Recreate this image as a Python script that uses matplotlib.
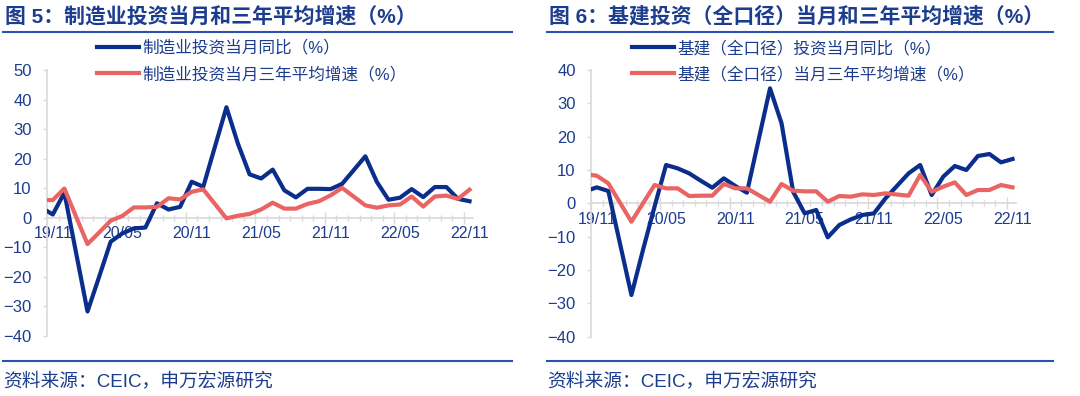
import matplotlib
matplotlib.use("Agg")
import matplotlib.pyplot as plt
from matplotlib.lines import Line2D
from matplotlib.ticker import MultipleLocator

plt.rcParams['font.family'] = ['Liberation Sans', 'Noto Sans CJK SC']

# months (January is merged into Jan-Feb, so it is missing)
months = ["19/10", "19/11", "19/12", "20/02", "20/03", "20/04", "20/05", "20/06",
          "20/07", "20/08", "20/09", "20/10", "20/11", "20/12", "21/02", "21/03",
          "21/04", "21/05", "21/06", "21/07", "21/08", "21/09", "21/10", "21/11",
          "21/12", "22/02", "22/03", "22/04", "22/05", "22/06", "22/07", "22/08",
          "22/09", "22/10", "22/11"]

# fig 5: manufacturing investment
mfg_yoy = [3.5, 1.1, 8.5, -31.7, -20.0, -8.1, -5.3, -3.6, -3.3, 4.9, 2.8, 3.7,
           12.2, 10.5, 37.4, 25.0, 14.7, 13.3, 16.3, 9.3, 6.9, 9.8, 9.8, 9.7,
           11.5, 20.8, 12.1, 6.1, 6.8, 9.7, 7.0, 10.4, 10.4, 6.4, 5.6]
mfg_3y = [6.0, 6.0, 9.9, -8.9, -5.0, -1.0, 0.6, 3.5, 3.5, 3.7, 6.6, 6.2,
          8.8, 9.6, -0.2, 0.7, 1.3, 2.8, 5.1, 3.1, 3.1, 4.7, 5.6, 7.6,
          10.1, 4.2, 3.4, 4.2, 4.5, 7.2, 3.8, 7.2, 7.5, 6.4, 9.5]

# fig 6: infrastructure investment (broad)
infra_yoy = [3.6, 4.8, 3.7, -27.5, -14.0, -1.0, 11.5, 10.5, 9.0, 6.8, 4.7, 7.5,
             5.2, 3.2, 34.5, 24.0, 3.5, -3.0, -2.0, -10.2, -6.5, -4.8, -3.5, -3.0,
             1.5, 9.0, 11.5, 2.5, 8.0, 11.2, 10.0, 14.2, 14.8, 12.3, 13.3]
infra_3y = [8.7, 8.3, 6.0, -5.5, 0.0, 5.5, 4.5, 4.5, 2.2, 2.3, 2.3, 5.8,
            4.5, 4.5, 0.5, 5.8, 3.8, 3.6, 3.6, 0.5, 2.2, 2.0, 2.7, 2.5,
            3.0, 2.3, 8.5, 3.5, 5.0, 6.3, 2.5, 4.0, 4.0, 5.5, 4.8]

tick_labels = ["19/11", "20/05", "20/11", "21/05", "21/11", "22/05", "22/11"]

BLUE = "#0B2E8C"
RED = "#E96463"
TXT = "#1C3C8E"
RULE = "#2B52B0"
GRAY = "#D9D9D9"


def pos(m):
    # month index, category centre (19/11 -> 0.5)
    yy, mm = m.split("/")
    return (int(yy) - 19) * 12 + int(mm) - 11 + 0.5


def draw(ax, blue, red, names, ylim):
    x = [pos(m) for m in months]
    ax.plot(x, blue, color=BLUE, lw=3, label=names[0], zorder=3)
    ax.plot(x, red, color=RED, lw=3, label=names[1], zorder=3)
    ax.set_xlim(0, 36.8)
    ax.set_ylim(ylim)
    for s in ["top", "right"]:
        ax.spines[s].set_visible(False)
    ax.spines["left"].set_color(GRAY)
    ax.spines["left"].set_linewidth(1.2)
    ax.spines["bottom"].set_position(("data", 0))
    ax.spines["bottom"].set_color(GRAY)
    ax.spines["bottom"].set_linewidth(1.2)
    ax.set_yticks(range(ylim[0], ylim[1] + 1, 10))
    ax.tick_params(axis="y", length=3, width=1, color=GRAY, labelcolor=TXT,
                   labelsize=12, pad=8)
    ax.set_xticks([pos(t) for t in tick_labels], tick_labels)
    ax.xaxis.set_minor_locator(MultipleLocator(1))
    ax.tick_params(axis="x", which="major", length=0, pad=6, labelsize=11.5,
                   labelcolor=TXT)
    ax.tick_params(axis="x", which="minor", length=4, width=1,
                   direction="inout", color=GRAY)
    for t, loc in zip(ax.xaxis.get_minor_ticks(), ax.xaxis.get_minorticklocs()):
        if round(loc) % 6 == 0:
            t.tick1line.set_markersize(9)
    ax.patch.set_alpha(0)


fig = plt.figure(figsize=(10.8, 3.96), dpi=100)

ax1 = fig.add_axes([47 / 1080, 60 / 396, 426 / 1080, 266 / 396])
draw(ax1, mfg_yoy, mfg_3y,
     ["制造业投资当月同比（%）", "制造业投资当月三年平均增速（%）"], (-40, 50))
ax1.legend(loc="upper left", bbox_to_anchor=(97 / 1080, 1 - 40 / 396),
           bbox_transform=fig.transFigure, frameon=False, fontsize=12,
           handlelength=2.5, handletextpad=0.2, labelspacing=0.62,
           borderpad=0, borderaxespad=0, labelcolor=TXT)

ax2 = fig.add_axes([591 / 1080, 59.3 / 396, 425 / 1080, 266.7 / 396])
draw(ax2, infra_yoy, infra_3y,
     ["基建（全口径）投资当月同比（%）", "基建（全口径）当月三年平均增速（%）"], (-40, 40))
ax2.legend(loc="upper left", bbox_to_anchor=(632 / 1080, 1 - 40 / 396),
           bbox_transform=fig.transFigure, frameon=False, fontsize=12,
           handlelength=2.5, handletextpad=0.2, labelspacing=0.62,
           borderpad=0, borderaxespad=0, labelcolor=TXT)

# titles, rules and source lines
for x0, x1, title in [(3, 512, "图 5：制造业投资当月和三年平均增速（%）"),
                      (547, 1053, "图 6：基建投资（全口径）当月和三年平均增速（%）")]:
    fig.text((x0 + 2) / 1080, 1 - 16 / 396, title, fontsize=15, fontweight="bold",
             color=TXT, va="center", ha="left")
    fig.add_artist(Line2D([x0 / 1080, x1 / 1080], [1 - 31.5 / 396] * 2,
                          color=RULE, lw=1.5, transform=fig.transFigure))
    fig.add_artist(Line2D([x0 / 1080, x1 / 1080], [1 - 360.5 / 396] * 2,
                          color=RULE, lw=1.5, transform=fig.transFigure))
    fig.text(x0 / 1080, 1 - 381 / 396, "资料来源：CEIC，申万宏源研究", fontsize=13.5,
             color=TXT, va="center", ha="left")

fig.savefig("out.png", dpi=100)
